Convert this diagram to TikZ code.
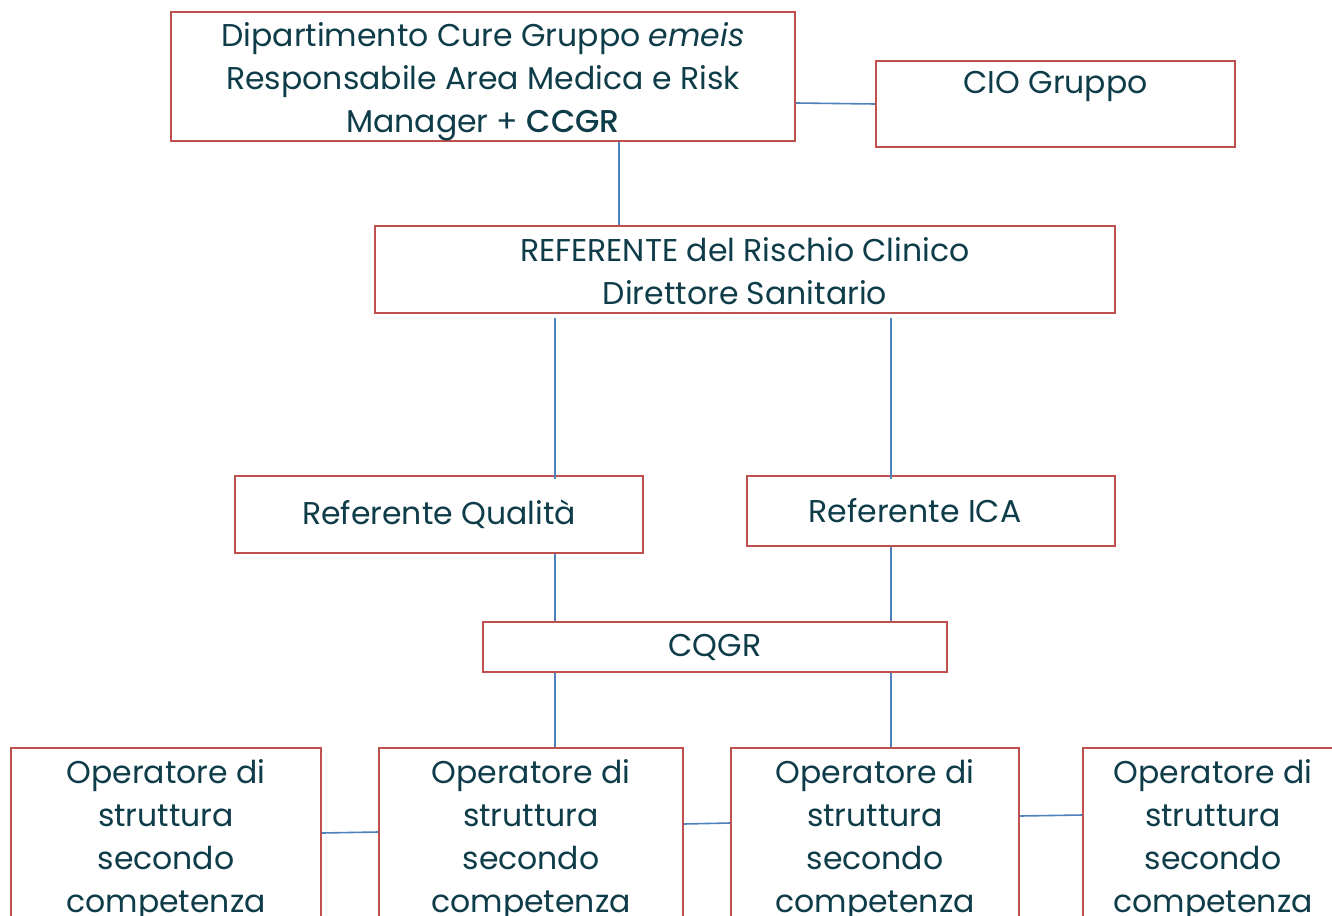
\documentclass[tikz,border=0pt]{standalone}
\usepackage{fontspec}
\setmainfont{Poppins}
\newfontface\medface{Poppins Medium}
\definecolor{boxred}{RGB}{192,80,77}
\definecolor{linkblue}{RGB}{79,129,189}
\definecolor{ink}{RGB}{14,60,72}
\newcommand{\toppad}[1]{\rule{0pt}{#1}}

\begin{document}
\begin{tikzpicture}[x=1pt,y=-1pt,
  orgbox/.style={draw=boxred, line width=1.6pt, fill=white, text=ink, align=center,
    inner sep=0pt, font=\fontsize{31.5}{43}\selectfont},
  link/.style={draw=linkblue, line width=1.6pt}]
  \useasboundingbox (0,0) rectangle (1332,915);
  % top level
  \node[orgbox, minimum width=624, minimum height=127] (dip) at (483,76.5)
    {\toppad{34pt}Dipartimento Cure Gruppo \textit{emeis}\\Responsabile Area Medica e Risk\\Manager + {\medface CCGR}};
  \node[orgbox, minimum width=359, minimum height=86] (cio) at (1055.5,104) {CIO Gruppo\\~};
  \node[orgbox, minimum width=740, minimum height=87] (refrc) at (745,269.5)
    {\toppad{27pt}REFERENTE del Rischio Clinico\\Direttore Sanitario};
  % referenti
  \node[orgbox, minimum width=408, minimum height=77] (qual) at (439,514.5) {Referente Qualità};
  \node[orgbox, minimum width=368, minimum height=70] (ica) at (931,511) {Referente ICA\hspace*{32pt}};
  \node[orgbox, minimum width=464, minimum height=50] (cqgr) at (715,647) {CQGR};
  % operatori
  \node[orgbox, minimum width=310, minimum height=176] (op1) at (166,836)
    {\toppad{32pt}Operatore di\\struttura\\secondo\\competenza};
  \node[orgbox, minimum width=304, minimum height=176] (op2) at (531,836)
    {\toppad{32pt}Operatore di\\struttura\\secondo\\competenza};
  \node[orgbox, minimum width=288, minimum height=176] (op3) at (875,836)
    {\toppad{32pt}Operatore di\\struttura\\secondo\\competenza};
  \node[orgbox, minimum width=260, minimum height=176] (op4) at (1213,836)
    {\toppad{32pt}Operatore di\\struttura\\secondo\\competenza};
  % connectors
  \draw[link] ([yshift=-26.5]dip.east) -- (cio.west);
  \draw[link] ([xshift=136]dip.south) -- ([xshift=136]dip.south |- refrc.north);
  \draw[link] ([xshift=-190,yshift=-4]refrc.south) -- ([xshift=-190,yshift=-4]refrc.south |- qual.north);
  \draw[link] ([xshift=146,yshift=-4]refrc.south) -- ([xshift=146,yshift=-4]refrc.south |- ica.north);
  \draw[link] ([xshift=-160]cqgr.north |- qual.south) -- ([xshift=-160]cqgr.north);
  \draw[link] ([xshift=176]cqgr.north |- ica.south) -- ([xshift=176]cqgr.north);
  \draw[link] ([xshift=-160]cqgr.south) -- ([xshift=-160]cqgr.south |- op2.north);
  \draw[link] ([xshift=176]cqgr.south) -- ([xshift=176]cqgr.south |- op3.north);
  \draw[link] ([yshift=3]op1.east) -- ([yshift=4]op2.west);
  \draw[link] ([yshift=12]op2.east) -- ([yshift=13]op3.west);
  \draw[link] ([yshift=20]op3.east) -- ([yshift=21]op4.west);
\end{tikzpicture}
\end{document}
